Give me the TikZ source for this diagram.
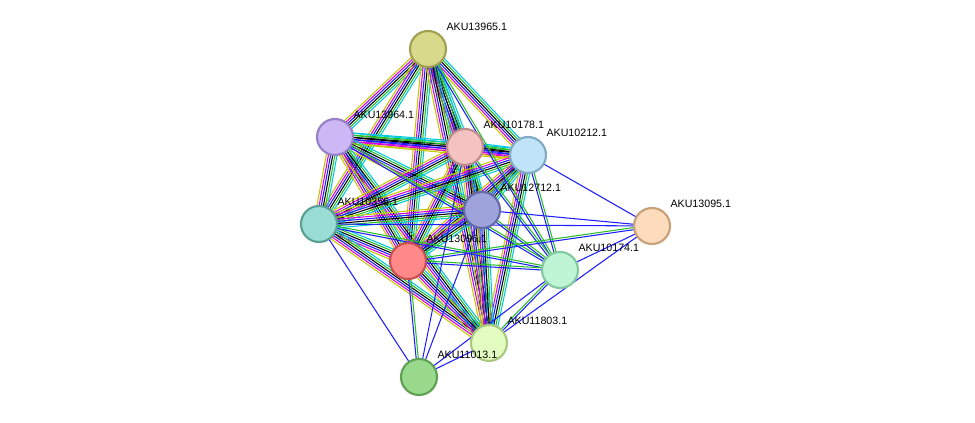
\documentclass[tikz,border=0pt]{standalone}
\usepackage{fontspec}
\setmainfont{Liberation Sans}
\usetikzlibrary{calc}
\definecolor{tmyel}{RGB}{200,200,0}
\definecolor{nbgrn}{RGB}{40,190,40}
\definecolor{dbcyn}{RGB}{0,200,220}
\definecolor{exmag}{RGB}{220,0,220}
\definecolor{coblu}{RGB}{30,30,255}
\newcommand\lnk[3]{%
  \foreach \c [count=\i] in {#3} {\global\let\nn\i}%
  \foreach \c [count=\i] in {#3} {%
    \pgfmathsetmacro\o{(\i-(\nn+1)/2)*1.6}%
    \draw[\c] ($(#1)!\o pt!90:(#2)$) -- ($(#2)!\o pt!-90:(#1)$);}}
\tikzset{
  prot/.style={circle, minimum size=27pt, inner sep=0pt, line width=1.6pt},
  lbl/.style={font=\fontsize{8}{9.6}\selectfont, inner sep=0pt, anchor=base west}
}
\begin{document}
\begin{tikzpicture}[x=0.75pt, y=-0.75pt, line width=0.8pt]
  \useasboundingbox (0,0) rectangle (975,423);
  \coordinate (c13965) at (428,49);
  \coordinate (c13964) at (335,137);
  \coordinate (c10178) at (465,147);
  \coordinate (c10212) at (528,155);
  \coordinate (c12712) at (482,210);
  \coordinate (c10356) at (319,224);
  \coordinate (c13096) at (408,261);
  \coordinate (c13095) at (652,226);
  \coordinate (c10174) at (560,270);
  \coordinate (c11803) at (489,343);
  \coordinate (c11013) at (419,377);
  % core cluster
  \foreach \a/\b in {13965/13964,13965/10178,13965/10212,13965/12712,13965/10356,13965/13096,13965/11803,
    13964/10178,13964/10212,13964/12712,13964/10356,13964/13096,13964/11803,
    10178/10212,10178/12712,10178/10356,10178/13096,10178/11803,
    10212/12712,10212/10356,10212/13096,10212/11803,
    12712/10356,12712/13096,12712/11803,
    10356/13096,10356/11803,13096/11803}
    {\lnk{c\a}{c\b}{tmyel,exmag,coblu,black,nbgrn,dbcyn}}
  % 10174
  \foreach \a in {13965,13964,10178,10212,12712,10356,13096,11803}
    {\lnk{c\a}{c10174}{coblu,nbgrn}}
  % blue only
  \foreach \a/\b in {10212/13095,12712/13095,10356/13095,10174/13095,11803/13095,
    11013/10356,11013/12712,11013/10178,11013/11803,11013/10174}
    {\draw[coblu] (c\a) -- (c\b);}
  \lnk{c13096}{c13095}{coblu,nbgrn}
  \lnk{c13096}{c11013}{coblu,nbgrn}
  % proteins
  \node[prot, fill={rgb,255:red,217;green,217;blue,140}, draw={rgb,255:red,160;green,160;blue,80}] (n13965) at (c13965) {};
  \node[prot, fill={rgb,255:red,205;green,184;blue,245}, draw={rgb,255:red,150;green,128;blue,200}] (n13964) at (c13964) {};
  \node[prot, fill={rgb,255:red,245;green,194;blue,194}, draw={rgb,255:red,190;green,140;blue,140}] (n10178) at (c10178) {};
  \node[prot, fill={rgb,255:red,191;green,227;blue,248}, draw={rgb,255:red,130;green,170;blue,195}] (n10212) at (c10212) {};
  \node[prot, fill={rgb,255:red,159;green,163;blue,220}, draw={rgb,255:red,100;green,105;blue,170}] (n12712) at (c12712) {};
  \node[prot, fill={rgb,255:red,153;green,221;blue,213}, draw={rgb,255:red,90;green,160;blue,150}] (n10356) at (c10356) {};
  \node[prot, fill={rgb,255:red,255;green,136;blue,136}, draw={rgb,255:red,200;green,80;blue,80}] (n13096) at (c13096) {};
  \node[prot, fill={rgb,255:red,253;green,220;blue,189}, draw={rgb,255:red,200;green,160;blue,120}] (n13095) at (c13095) {};
  \node[prot, fill={rgb,255:red,191;green,245;blue,213}, draw={rgb,255:red,130;green,200;blue,160}] (n10174) at (c10174) {};
  \node[prot, fill={rgb,255:red,226;green,253;blue,191}, draw={rgb,255:red,170;green,200;blue,130}] (n11803) at (c11803) {};
  \node[prot, fill={rgb,255:red,153;green,217;blue,140}, draw={rgb,255:red,95;green,160;blue,85}] (n11013) at (c11013) {};
  % labels
  \foreach \p in {13965,13964,10178,10212,12712,10356,13096,13095,10174,11803,11013}
    \node[lbl] (l\p) at ($(c\p)+(18,-18)$) {AKU\p.1};
\end{tikzpicture}
\end{document}
